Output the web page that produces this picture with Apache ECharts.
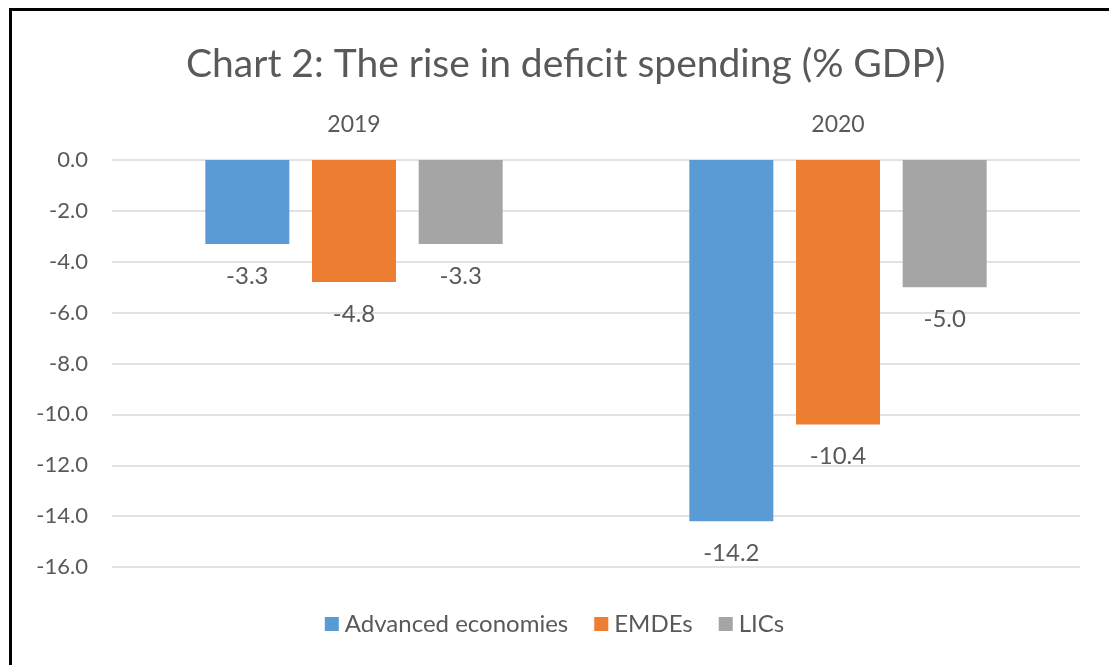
<!DOCTYPE html>
<html>
<head>
<meta charset="utf-8">
<style>
  html, body { margin: 0; padding: 0; background: #fff; }
  #frame { position: absolute; left: 9px; top: 8px; width: 1100px; height: 657px;
           border-left: 3px solid #000; border-top: 3px solid #000; box-sizing: border-box; }
  #chart { position: absolute; left: 0; top: 0; width: 1109px; height: 665px; }
</style>
<script src="https://cdn.jsdelivr.net/npm/echarts@6/dist/echarts.min.js"></script>
</head>
<body>
<div id="chart"></div>
<div id="frame"></div>
<script>
// Fiscal balance by country group, % of GDP
const years = ['2019', '2020'];
const advancedEconomies = [-3.3, -14.2];
const emdes = [-4.8, -10.4];
const lics = [-3.3, -5.0];
const seriesNames = ['Advanced economies', 'EMDEs', 'LICs'];
const colors = ['#5B9BD5', '#ED7D31', '#A5A5A5'];

const font = 'Lato, "Open Sans", sans-serif';
const textColor = '#595959';

const makeSeries = (name, data, color) => ({
  name, type: 'bar', data,
  barWidth: 84, barGap: '27%',
  itemStyle: { color },
  label: {
    show: true, position: 'bottom', distance: 20,
    formatter: p => p.value.toFixed(1),
    color: textColor, fontSize: 24, fontFamily: font
  }
});

const chart = echarts.init(document.getElementById('chart'));
chart.setOption({
  animation: false,
  title: {
    text: 'Chart 2: The rise in deficit spending (% GDP)',
    left: 181, top: 40,
    textStyle: { color: textColor, fontSize: 39, fontWeight: 'normal', fontFamily: font }
  },
  legend: {
    bottom: 24, left: 'center',
    itemWidth: 14, itemHeight: 14, itemGap: 26,
    icon: 'rect',
    textStyle: { color: textColor, fontSize: 24, fontFamily: font, padding: [0, 0, 0, 1] }
  },
  grid: { left: 112, right: 29, top: 160, bottom: 98 },
  xAxis: {
    type: 'category', data: years, position: 'top',
    axisLine: { show: false }, axisTick: { show: false },
    axisLabel: { color: textColor, fontSize: 23, fontFamily: font, margin: 24 }
  },
  yAxis: {
    type: 'value', min: -16, max: 0, interval: 2,
    axisLine: { show: false }, axisTick: { show: false },
    splitLine: { lineStyle: { color: '#D9D9D9', width: 1.5 } },
    axisLabel: { color: textColor, fontSize: 22, fontFamily: font, margin: 24,
                 formatter: v => v.toFixed(1) }
  },
  series: [
    makeSeries(seriesNames[0], advancedEconomies, colors[0]),
    makeSeries(seriesNames[1], emdes, colors[1]),
    makeSeries(seriesNames[2], lics, colors[2])
  ]
});
</script>
</body>
</html>
